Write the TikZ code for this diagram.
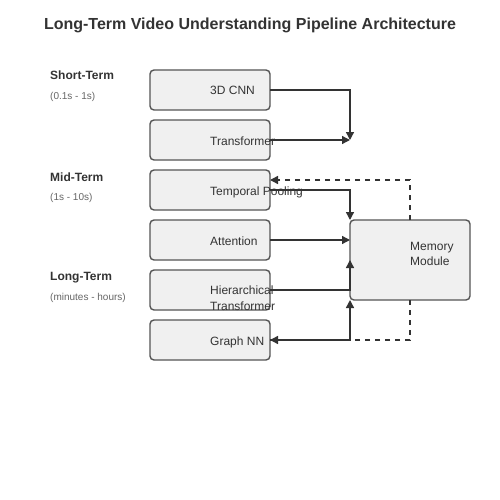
\documentclass[tikz,border=0pt]{standalone}
\usepackage{fontspec}
\setmainfont{Liberation Sans}
\usetikzlibrary{arrows.meta,calc}
\definecolor{txt}{HTML}{333333}
\definecolor{sub}{HTML}{666666}
\definecolor{boxfill}{HTML}{F0F0F0}
\definecolor{boxline}{HTML}{555555}
\begin{document}
\begin{tikzpicture}[x=1pt,y=-1pt,
  stagebox/.style={draw=boxline,fill=boxfill,line width=1.4pt,rounded corners=4pt,minimum width=120pt,minimum height=40pt,inner sep=0pt,outer sep=0pt},
  membox/.style={stagebox,minimum height=80pt},
  boxtext/.style={anchor=base west,inner sep=0pt,text=txt,font=\fontsize{12}{14}\selectfont},
  phase/.style={anchor=base west,inner sep=0pt,text=txt,font=\bfseries\fontsize{12}{14}\selectfont},
  phasesub/.style={anchor=base west,inner sep=0pt,text=sub,font=\fontsize{10}{12}\selectfont},
  arr/.style={draw=txt,line width=1.4pt,-{Triangle[length=8pt,width=8pt]}},
  darr/.style={arr,dash pattern=on 5pt off 5pt}]
\useasboundingbox (0,0) rectangle (500,500);
\fill[white] (0,0) rectangle (500,500);
\node[anchor=base,inner sep=0pt,text=txt,font=\bfseries\fontsize{16}{19}\selectfont] (title) at (250,30) {Long-Term Video Understanding Pipeline Architecture};
% phase labels
\node[phase] (st) at (50,80) {Short-Term};
\node[phasesub] (sts) at (50,100) {(0.1s - 1s)};
\node[phase] (mt) at (50,181) {Mid-Term};
\node[phasesub] (mts) at (50,200) {(1s - 10s)};
\node[phase] (lt) at (50,280) {Long-Term};
\node[phasesub] (lts) at (50,300) {(minutes - hours)};
% boxes
\node[stagebox] (cnn) at (210,90) {};
\node[stagebox] (tf) at (210,140) {};
\node[stagebox] (tp) at (210,190) {};
\node[stagebox] (att) at (210,240) {};
\node[stagebox] (ht) at (210,290) {};
\node[stagebox] (gnn) at (210,340) {};
\node[membox] (mem) at (410,260) {};
\coordinate (j1) at (350,140);
\coordinate (matt) at (350,240);
\coordinate (fb) at (270,180);
% arrows
\draw[arr] (cnn.east) -| (j1);
\draw[arr] (tf.east) -- (j1);
\draw[arr] (tp.east) -| (mem.north west);
\draw[arr] (att.east) -- (matt);
\draw[arr] (ht.east) -| (mem.west);
\draw[arr] (gnn.east) -| (mem.south west);
\draw[darr] (mem.north) |- (fb);
\draw[darr] (mem.south) |- (gnn.east);
% texts
\node[boxtext] (cnnt) at (210,95) {3D CNN};
\node[boxtext] (tft) at (210,145) {Transformer};
\node[boxtext] (tpt) at (210,195) {Temporal Pooling};
\node[boxtext] (attt) at (210,245) {Attention};
\node[boxtext] (htt1) at (210,294.5) {Hierarchical};
\node[boxtext] (htt2) at (210,310) {Transformer};
\node[boxtext] (gnnt) at (210,345) {Graph NN};
\node[boxtext] (memt1) at (410,250) {Memory};
\node[boxtext] (memt2) at (410,265) {Module};
\end{tikzpicture}
\end{document}
